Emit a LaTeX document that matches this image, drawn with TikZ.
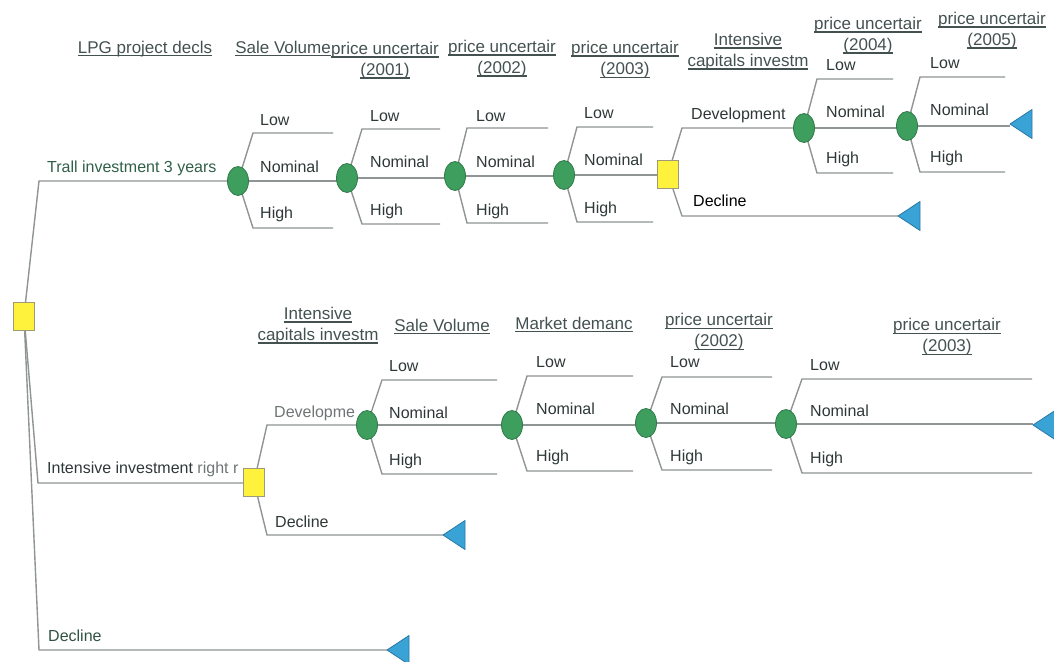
\documentclass[tikz,border=0pt]{standalone}
\usepackage{fontspec}
\setmainfont{Liberation Sans}
\usetikzlibrary{shapes.geometric,backgrounds}

% underline at a fixed depth below the baseline
\newcommand{\uln}[1]{\setbox0=\hbox{#1}\leavevmode\rlap{\vrule width \wd0 height -1.6pt depth 2.8pt}\box0}

\definecolor{branchgray}{HTML}{8F9494}
\definecolor{chancefill}{HTML}{3E9E5E}
\definecolor{chancedraw}{HTML}{2F7A48}
\definecolor{decfill}{HTML}{FFF23C}
\definecolor{decdraw}{HTML}{9C9A78}
\definecolor{endfill}{HTML}{3AA3D6}
\definecolor{enddraw}{HTML}{2A78A8}
\definecolor{labelink}{HTML}{2E3838}
\definecolor{headink}{HTML}{445151}
\definecolor{pathink}{HTML}{2F5F48}
\definecolor{fadeink}{HTML}{6E7575}

% three-way chance fan: node, corner x, low y, high y, end x, nominal target
\newcommand{\fanout}[6]{%
  \coordinate (#1-lo) at (#2,#3);
  \coordinate (#1-hi) at (#2,#4);
  \coordinate (#1-loend) at (#5,#3);
  \coordinate (#1-hiend) at (#5,#4);
  \draw[branch] (#1.center) -- (#1-lo) -- (#1-loend);
  \draw[branch] (#1.center) -- (#1-hi) -- (#1-hiend);
  \draw[branch] (#1.center) -- (#1.center -| #6);
}
% Low / Nominal / High labels of a fan: node, x, three y values
\newcommand{\fanlabels}[5]{%
  \node[lab] (#1-tlow) at (#2,#3) {Low};
  \node[lab] (#1-tnom) at (#2,#4) {Nominal};
  \node[lab] (#1-thigh) at (#2,#5) {High};
}

\tikzset{
  branch/.style={draw=branchgray, line width=1.4pt},
  chance/.style={ellipse, draw=chancedraw, fill=chancefill, line width=0.8pt,
    minimum width=21pt, minimum height=29pt, inner sep=0pt},
  decision/.style={rectangle, draw=decdraw, fill=decfill, line width=0.8pt,
    minimum width=21pt, minimum height=28pt, inner sep=0pt},
  endtri/.style={draw=enddraw, fill=endfill, line width=0.8pt, line join=round},
  lab/.style={anchor=base west, inner sep=0pt, yshift=-5.7pt, text=labelink,
    font=\fontsize{16}{19}\selectfont},
  head/.style={anchor=base, inner sep=0pt, yshift=-6pt, text=headink,
    font=\fontsize{17}{20}\selectfont},
  headtwo/.style={anchor=center, align=center, inner sep=0pt, text=headink,
    font=\fontsize{17}{21}\selectfont},
}

\begin{document}
\begin{tikzpicture}[x=1pt, y=-1pt]
\useasboundingbox (0,0) rectangle (1054,661);
\clip (0,0) rectangle (1054,661);

% decision nodes
\node[decision] (root) at (24,316) {};
\node[decision] (d2) at (668,174) {};
\node[decision] (d3) at (254,482) {};

% chance nodes
\node[chance] (c1) at (238,181) {};
\node[chance] (c2) at (347,178) {};
\node[chance] (c3) at (455,176) {};
\node[chance] (c4) at (564,175) {};
\node[chance] (c5) at (804,128) {};
\node[chance] (c6) at (907,126) {};
\node[chance] (c7) at (367,425) {};
\node[chance] (c8) at (512,425) {};
\node[chance] (c9) at (646,423) {};
\node[chance] (c10) at (786,424) {};

% end nodes (tips of the triangles)
\coordinate (e1) at (1010,124);
\coordinate (e2) at (898,216);
\coordinate (e3) at (1033,425);
\coordinate (e4) at (443,535);
\coordinate (e5) at (387,650);
\foreach \e in {e1,e2,e3,e4,e5}
  \draw[endtri] (\e) -- ++(22,-14.5) -- ++(0,29) -- cycle;

% branches
\begin{scope}[on background layer]
  \coordinate (rt) at (39,181);
  \coordinate (rm) at (38,483);
  \coordinate (rb) at (39,650);
  \draw[branch] (root.center) -- (rt) -- (c1.center);
  \draw[branch] (root.center) -- (rm) -- (rm -| d3.center);
  \draw[branch] (root.center) -- (rb) -- (e5);

  \coordinate (d2dev) at (682,128);
  \coordinate (d2dec) at (682,216);
  \draw[branch] (d2.center) -- (d2dev) -- (c5.center);
  \draw[branch] (d2.center) -- (d2dec) -- (e2);

  \coordinate (d3dev) at (267,425);
  \coordinate (d3dec) at (267,535);
  \draw[branch] (d3.center) -- (d3dev) -- (c7.center);
  \draw[branch] (d3.center) -- (d3dec) -- (e4);

  \fanout{c1}{253}{133}{228}{333}{c2.center}
  \fanout{c2}{362}{129}{224}{440}{c3.center}
  \fanout{c3}{467}{128}{223}{548}{c4.center}
  \fanout{c4}{577}{127}{222}{653}{d2.center}
  \fanout{c5}{817}{79}{173}{893}{c6.center}
  \fanout{c6}{920}{77}{172}{1005}{e1}
  \fanout{c7}{382}{380}{474}{497}{c8.center}
  \fanout{c8}{527}{376}{471}{633}{c9.center}
  \fanout{c9}{662}{377}{470}{772}{c10.center}
  \fanout{c10}{802}{379}{473}{1032}{e3}
\end{scope}

% branch labels
\fanlabels{c1}{260}{120}{167}{213}
\fanlabels{c2}{370}{116}{162}{210}
\fanlabels{c3}{476}{116}{162}{210}
\fanlabels{c4}{584}{113}{160}{208}
\fanlabels{c5}{826}{65}{112}{158}
\fanlabels{c6}{930}{63}{110}{157}
\fanlabels{c7}{389}{366}{413}{460}
\fanlabels{c8}{536}{362}{409}{456}
\fanlabels{c9}{670}{362}{409}{456}
\fanlabels{c10}{810}{365}{411}{458}

\node[lab, text=pathink] (ltrial) at (47,167) {Trall investment 3 years};
\node[lab] (lintense) at (47,468) {Intensive investment {\color{fadeink}right r}};
\node[lab, text=pathink!70!labelink] (lroot-dec) at (48,636) {Decline};
\node[lab, text=fadeink] (ld3-dev) at (274,412) {Developme};
\node[lab] (ld3-dec) at (275,522) {Decline};
\node[lab] (ld2-dev) at (691,114) {Development};
\node[lab, text=black] (ld2-dec) at (693,201) {Decline};

% column headings
\node[head] (h1) at (145,47) {\uln{LPG project decls}};
\node[head] (h2) at (283,47) {\uln{Sale Volume}};
\node[headtwo] (h3) at (385,61) {\uln{price uncertair}\\\uln{(2001)}};
\node[headtwo] (h4) at (502,59) {\uln{price uncertair}\\\uln{(2002)}};
\node[headtwo] (h5) at (625,60) {\uln{price uncertair}\\\uln{(2003)}};
\node[headtwo] (h6) at (748,52) {\uln{Intensive}\\\uln{capitals investm}};
\node[headtwo] (h7) at (868,36) {\uln{price uncertair}\\\uln{(2004)}};
\node[headtwo] (h8) at (992,31) {\uln{price uncertair}\\\uln{(2005)}};
\node[headtwo] (h9) at (318,326) {\uln{Intensive}\\\uln{capitals investm}};
\node[head] (h10) at (442,325) {\uln{Sale Volume}};
\node[head] (h11) at (574,323) {\uln{Market demanc}};
\node[headtwo] (h12) at (719,332) {\uln{price uncertair}\\\uln{(2002)}};
\node[headtwo] (h13) at (947,337) {\uln{price uncertair}\\\uln{(2003)}};
\end{tikzpicture}
\end{document}
